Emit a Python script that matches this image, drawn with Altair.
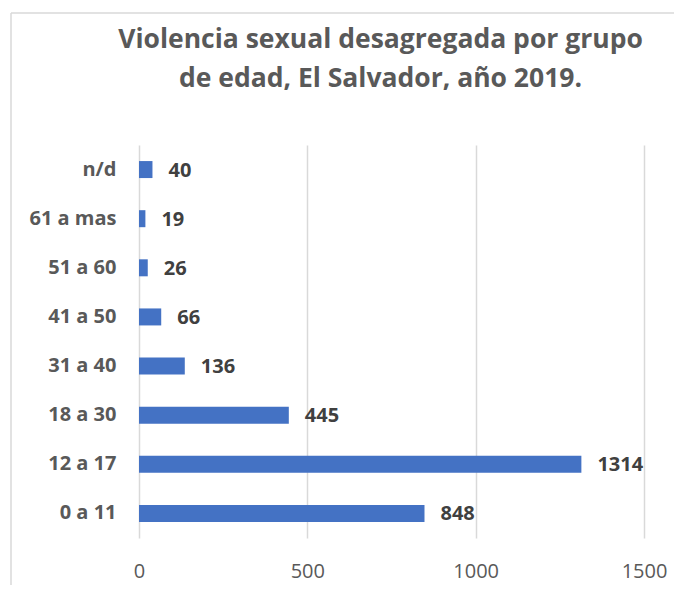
import altair as alt
import pandas as pd

grupos = ["n/d", "61 a mas", "51 a 60", "41 a 50", "31 a 40", "18 a 30", "12 a 17", "0 a 11"]
casos = [40, 19, 26, 66, 136, 445, 1314, 848]
ticks_x = [0, 500, 1000, 1500]
titulo = ["Violencia sexual desagregada por grupo", "de edad, El Salvador, año 2019."]

df = pd.DataFrame({"grupo": grupos, "casos": casos})
FONT = "Open Sans"

y_enc = alt.Y("grupo:N", sort=grupos, title=None,
              scale=alt.Scale(paddingInner=0.654, paddingOuter=0.327),
              axis=alt.Axis(labelFont=FONT, labelFontSize=20, labelFontWeight="bold",
                            labelColor="#595959", labelPadding=23, ticks=False,
                            domain=False, grid=False))
x_enc = alt.X("casos:Q", title=None,
              scale=alt.Scale(domain=[0, 1500], nice=False),
              axis=alt.Axis(values=ticks_x, format="d", labelFont=FONT, labelFontSize=20,
                            labelColor="#595959", labelPadding=23, labelFlush=False,
                            ticks=False, domain=False, grid=True,
                            gridColor="#d9d9d9", gridWidth=1.5))

bars = alt.Chart(df).mark_bar(color="#4472C4").encode(x=x_enc, y=y_enc)
labels = alt.Chart(df).mark_text(align="left", baseline="middle", dx=16, dy=1, font=FONT,
                                 fontSize=20, fontWeight="bold", color="#404040").encode(
    x="casos:Q", y=alt.Y("grupo:N", sort=grupos), text="casos:Q")

one = pd.DataFrame({"k": [0]})
top_line = alt.Chart(one).mark_rule(color="#d9d9d9", strokeWidth=1.5).encode(
    x=alt.value(-128), x2=alt.value(540), y=alt.value(-132))
left_line = alt.Chart(one).mark_rule(color="#d9d9d9", strokeWidth=1.5).encode(
    x=alt.value(-128), y=alt.value(-132), y2=alt.value(445))

chart = alt.layer(bars, labels, top_line, left_line).properties(
    width=505, height=393,
    title=alt.TitleParams(text=titulo, font=FONT, fontSize=26.5, fontWeight="bold",
                          color="#595959", anchor="middle", frame="group", dx=-11,
                          dy=80, offset=0, lineHeight=39),
    autosize=alt.AutoSizeParams(type="none"),
    padding={"left": 131, "top": 137, "right": 30, "bottom": 47},
    background="white",
).configure_view(stroke=None)

chart.save("out.html", embed_options={"renderer": "svg", "actions": False})
